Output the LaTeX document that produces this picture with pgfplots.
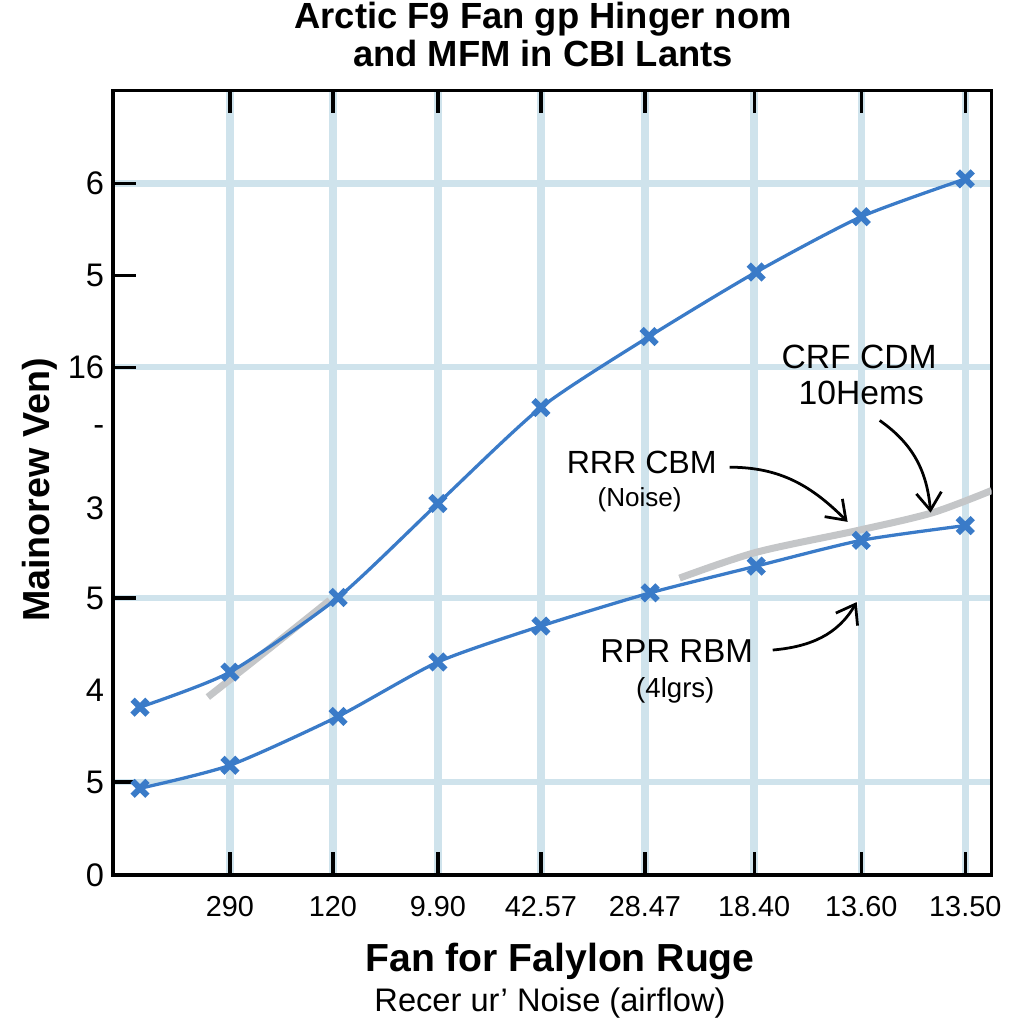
\documentclass[border=0pt]{standalone}
\usepackage{pgfplots}
\pgfplotsset{compat=1.18}
\usepackage{fontspec}
\setmainfont{Liberation Sans}
\usetikzlibrary{arrows.meta}
\definecolor{lineblue}{HTML}{3A7BC8}
\definecolor{gridblue}{HTML}{CFE3EC}
\definecolor{shadow}{HTML}{C4C6C8}

\begin{document}
\begin{tikzpicture}
\begin{axis}[name=ax, scale only axis,
  width=12.306cm, height=10.99cm,
  xmin=-0.113, xmax=8.25, ymin=0, ymax=8.51,
  axis line style={line width=1.3pt},
  tick style={black, line width=1.3pt},
  tick align=inside, major tick length=9pt, minor tick length=9pt,
  xtick={1,1.98,2.98,3.96,4.95,5.99,7.01,8.00},
  xticklabels={290,120,9.90,42.57,28.47,18.40,13.60,13.50},
  xticklabel pos=lower,
  ytick={1.008,3.003,5.507,7.50},
  yticklabels={5,5,16,6},
  ytick pos=left,
  minor ytick={6.504},
  extra y ticks={0,2.005,3.978,4.824,6.504},
  extra y tick labels={0,4,3,-,5},
  extra y tick style={major tick length=0pt, grid=none},
  grid=major,
  x grid style={gridblue, line width=3pt},
  y grid style={gridblue, line width=2.4pt},
  xticklabel style={font=\fontsize{11.5}{12}\selectfont, yshift=-5pt},
  yticklabel style={font=\fontsize{13}{14}\selectfont},
]
% grey shadow traces
\addplot[shadow, line width=2.8pt, smooth] coordinates {(0.79,1.93)(1.38,2.46)(1.95,2.98)};
\addplot[shadow, line width=2.8pt, smooth] coordinates {(5.28,3.22)(6.01,3.50)(6.99,3.74)(7.69,3.93)(8.25,4.17)};
% upper series
\addplot[lineblue, line width=1.3pt, smooth, tension=0.4, mark=x, mark size=4.2pt,
  mark options={line width=2.4pt, solid}] coordinates {
  (0.144,1.82)(1,2.20)(2.03,3.01)(2.98,4.03)(3.96,5.07)
  (4.99,5.84)(6.01,6.54)(7.01,7.14)(8.0,7.55)};
% lower series
\addplot[lineblue, line width=1.3pt, smooth, tension=0.4, mark=x, mark size=4.2pt,
  mark options={line width=2.4pt, solid}] coordinates {
  (0.144,0.94)(1,1.19)(2.03,1.72)(2.98,2.31)(3.96,2.70)
  (5.0,3.06)(6.01,3.35)(7.01,3.63)(8.0,3.79)};
% annotations
\node[font=\fontsize{13.4}{15}\selectfont] at (axis cs:6.99,5.615) {CRF CDM};
\node[font=\fontsize{13.4}{15}\selectfont] at (axis cs:7.01,5.225) {10Hems};
\node[font=\fontsize{12.8}{15}\selectfont] at (axis cs:4.92,4.477) {RRR CBM};
\node[font=\fontsize{10.4}{12}\selectfont] at (axis cs:4.90,4.065) {(Noise)};
\node[font=\fontsize{13.2}{15}\selectfont] at (axis cs:5.253,2.428) {RPR RBM};
\node[font=\fontsize{11}{13}\selectfont] at (axis cs:5.24,2.005) {(4lgrs)};
\draw[-{Straight Barb[length=7pt,width=10pt]}, line width=1.1pt]
  (axis cs:5.757,4.423) to[out=0,in=135] (axis cs:6.88,3.83);
\draw[-{Straight Barb[length=7pt,width=10pt]}, line width=1.1pt]
  (axis cs:7.185,4.93) to[out=-35,in=95] (axis cs:7.67,3.93);
\draw[-{Straight Barb[length=7pt,width=10pt]}, line width=1.1pt]
  (axis cs:6.167,2.44) to[out=5,in=-120] (axis cs:6.966,2.96);
\end{axis}
\begin{scope}[shift={(ax.south west)}, x=0.014cm, y=-0.014cm, shift={(-113,-875)}]
\node[anchor=base, font=\bfseries\fontsize{14.5}{16}\selectfont] at (543,29) {Arctic F9 Fan gp Hinger nom};
\node[anchor=base, font=\bfseries\fontsize{14.5}{16}\selectfont] at (543,67) {and MFM in CBI Lants};
\node[anchor=base, font=\bfseries\fontsize{15.6}{17}\selectfont] at (560,972) {Fan for Falylon Ruge};
\node[anchor=base, font=\fontsize{13}{14}\selectfont] at (550,1012) {Recer ur' Noise (airflow)};
\node[rotate=90, font=\bfseries\fontsize{15}{17}\selectfont] at (40,490) {Mainorew Ven)};
\pgfresetboundingbox
\useasboundingbox (0,0) rectangle (1024,1024);
\end{scope}
\end{tikzpicture}
\end{document}
